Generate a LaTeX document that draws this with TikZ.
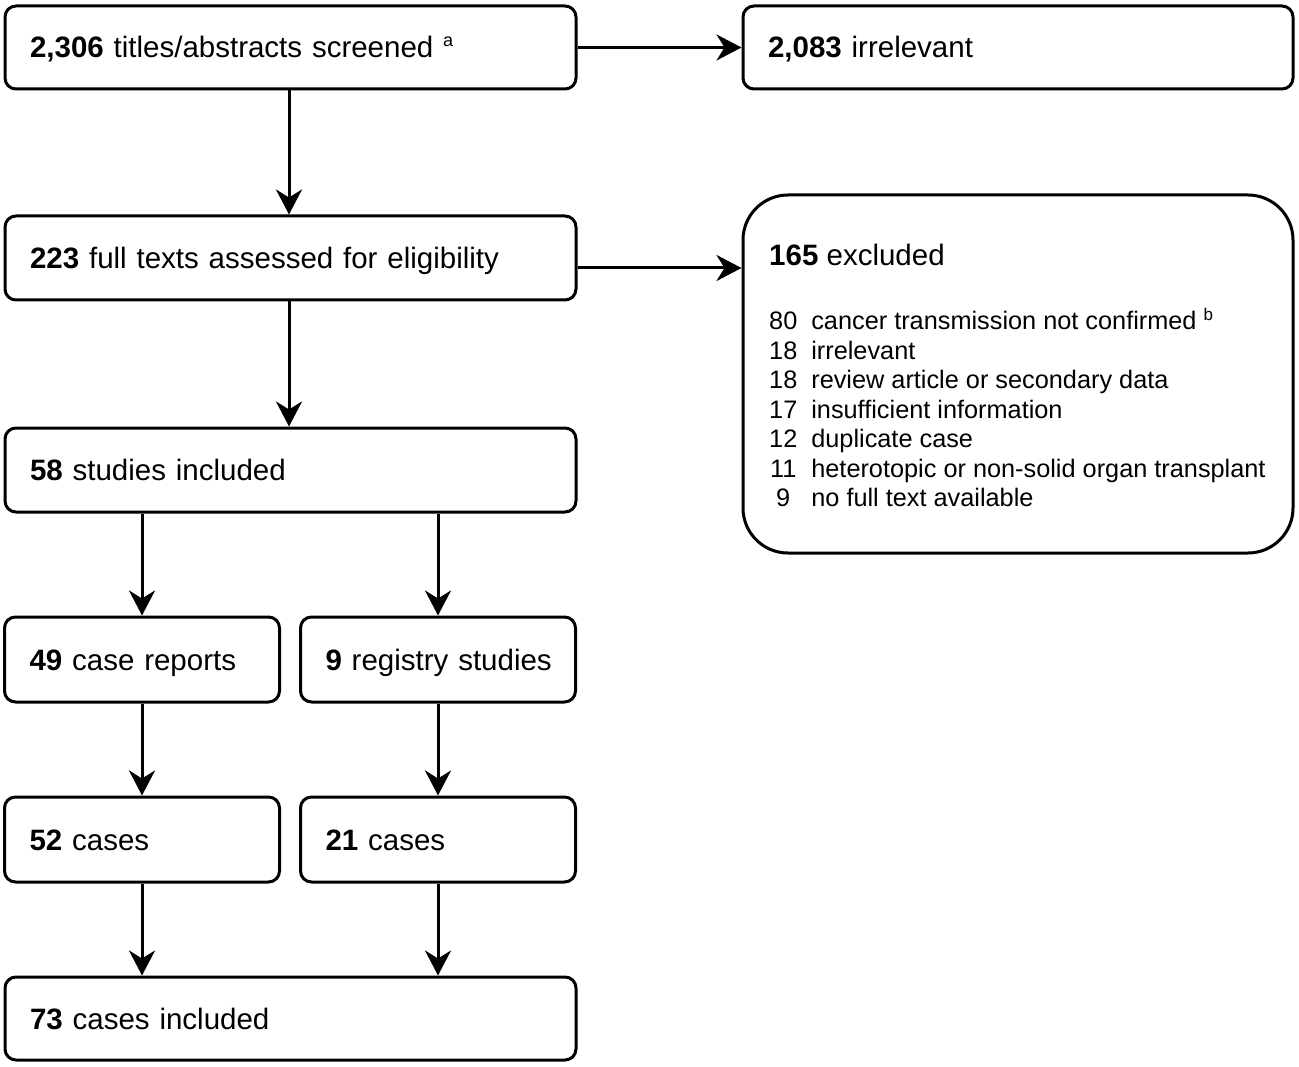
\documentclass[tikz,border=0pt]{standalone}
\usepackage{fontspec}
\setmainfont{Liberation Sans}
\usetikzlibrary{arrows.meta,calc}
\newcommand\mainsz{\fontsize{29.5}{35}\selectfont}
\newcommand\listsz{\fontsize{25.3}{29.5}\selectfont}
\newcommand\supa[1]{\raisebox{11pt}{\fontsize{18}{18}\selectfont #1}}
\newcommand\supb[1]{\raisebox{9pt}{\fontsize{17}{17}\selectfont #1}}
\begin{document}
\begin{tikzpicture}[x=1pt,y=-1pt,
  box/.style={draw, line width=3pt, rounded corners=11pt, inner xsep=25pt, inner ysep=0pt,
    align=left, font=\mainsz, text height=21pt, text depth=0pt},
  wide/.style={minimum width=571pt, text width=521pt},
  half/.style={minimum width=275pt, text width=225pt},
  right/.style={minimum width=550pt, text width=500pt},
  arr/.style={line width=3pt, -{Stealth[length=25pt,width=26pt,inset=8pt]}},
]
\useasboundingbox (0,0) rectangle (1299,1067);

\node[box, wide, minimum height=83pt] (b1) at (290.5,47.5) {\mbox{\textbf{2,306} titles/abstracts screened \supa{a}}};
\node[box, right, minimum height=83pt] (b2) at (1018,47.5) {\mbox{\textbf{2,083} irrelevant}};
\node[box, wide, minimum height=84pt] (b3) at (290.5,258) {\mbox{\textbf{223} full texts assessed for eligibility}};
\node[draw, line width=3pt, rounded corners=45pt, minimum width=550pt, minimum height=358pt, inner sep=0pt] (b4) at (1018,374) {};
\node[anchor=base west, inner sep=0pt, font=\mainsz] (exh) at (769,265.5) {\textbf{165} excluded};
\node[anchor=base west, inner sep=0pt, font=\listsz] (exl) at (769,330) {\begin{tabular}[t]{@{}c@{\hspace{14pt}}l@{}}
80 & cancer transmission not confirmed \supb{b}\\
18 & irrelevant\\
18 & review article or secondary data\\
17 & insufficient information\\
12 & duplicate case\\
11 & heterotopic or non-solid organ transplant\\
9 & no full text available
\end{tabular}};
\node[box, wide, minimum height=84pt] (b5) at (290.5,470) {\mbox{\textbf{58} studies included}};
\node[box, half, minimum height=85pt] (b6) at (142,659.5) {\mbox{\textbf{49} case reports}};
\node[box, half, minimum height=85pt] (b7) at (438,659.5) {\mbox{\textbf{9} registry studies}};
\node[box, half, minimum height=85pt] (b8) at (142,839.5) {\mbox{\textbf{52} cases}};
\node[box, half, minimum height=85pt] (b9) at (438,839.5) {\mbox{\textbf{21} cases}};
\node[box, wide, minimum height=83pt] (b10) at (290.5,1018.5) {\mbox{\textbf{73} cases included}};

\draw[arr] (b1.east) -- (b2.west);
\draw[arr] ([xshift=-1.5pt]b1.south) -- ([xshift=-1.5pt]b3.north);
\draw[arr] ([yshift=-10pt]b3.east) coordinate (a3) -- (a3 -| b4.west);
\draw[arr] ([xshift=-1.5pt]b3.south) -- ([xshift=-1.5pt]b5.north);
\draw[arr] (b5.south -| b6.north) -- (b6.north);
\draw[arr] (b5.south -| b7.north) -- (b7.north);
\draw[arr] (b6.south) -- (b8.north);
\draw[arr] (b7.south) -- (b9.north);
\draw[arr] (b8.south) -- (b8.south |- b10.north);
\draw[arr] (b9.south) -- (b9.south |- b10.north);
\end{tikzpicture}
\end{document}
